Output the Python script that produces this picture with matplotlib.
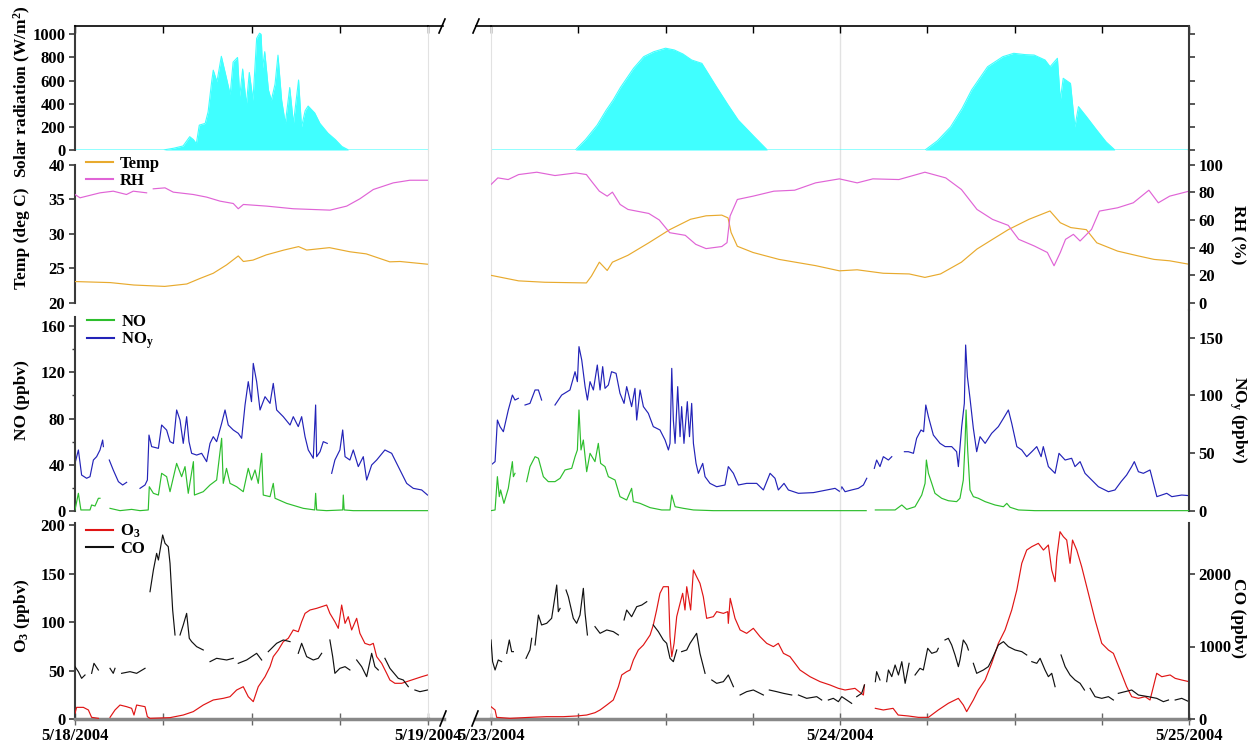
import numpy as np
import matplotlib
matplotlib.use('Agg')
import matplotlib.pyplot as plt
from matplotlib.lines import Line2D

nan = np.nan

# hours after midnight, 5/18/2004 (left part)
sol_l = [(0, 0), (6.0, 0), (6.7, 15), (7.35, 35), (7.8, 115), (8.05, 90), (8.25, 55), (8.45, 215),
         (8.85, 230), (9.05, 330), (9.3, 600), (9.4, 690), (9.65, 590), (9.95, 810), (10.3, 620),
         (10.55, 480), (10.75, 760), (11.05, 800), (11.2, 465), (11.4, 700), (11.65, 390), (11.85, 670),
         (12.1, 430), (12.35, 965), (12.55, 1010), (12.65, 1000), (12.75, 710), (12.9, 850), (13.15, 520),
         (13.35, 430), (13.6, 570), (13.8, 820), (14.05, 430), (14.3, 230), (14.6, 540), (14.85, 230),
         (15.2, 605), (15.4, 200), (15.65, 340), (15.85, 380), (16.3, 320), (16.65, 230), (17.2, 145),
         (17.7, 90), (18.15, 30), (18.6, 0), (24, 0)]
temp_l = [(0, 23.1), (2.4, 22.95), (4.0, 22.6), (6.1, 22.4), (7.6, 22.75), (8.5, 23.55), (9.4, 24.3),
          (10.3, 25.5), (11.1, 26.8), (11.45, 26.0), (12.1, 26.2), (13.0, 26.95), (14.2, 27.65),
          (15.2, 28.15), (15.75, 27.65), (17.3, 28.0), (18.7, 27.4), (19.8, 27.1), (21.4, 25.95),
          (22.1, 26.0), (24, 25.6)]
rh_l = [(0, 78.4), (0.34, 76.0), (1.7, 79.6), (2.6, 80.8), (3.5, 78.4), (3.96, 80.8), (4.87, 79.6),
        (5.1, nan), (5.32, 82.5), (6.12, 83.2), (6.68, 80.1), (8.04, 78.4), (8.95, 76.5), (9.86, 73.6),
        (10.76, 71.9), (11.1, 68.1), (11.45, 71.2), (13.03, 70.0), (14.84, 68.1), (17.34, 67.1),
        (18.47, 70.0), (19.37, 75.3), (20.28, 82.0), (21.64, 86.8), (22.77, 88.7), (24, 88.7)]
no_l = [(0, 0.9), (0.23, 15.3), (0.4, 0.9), (1.02, 0.9), (1.13, 5.2), (1.36, 4.3), (1.59, 11), (1.7, 11),
        (2.0, nan), (2.38, 2.3), (3.06, 0.3), (3.85, 1.4), (4.42, 0.3), (4.98, 0.9), (5.05, 21),
        (5.33, 15.3), (5.67, 13.8), (5.89, 32.6), (6.23, 29.7), (6.46, 16.7), (6.91, 41.2), (7.25, 29.7),
        (7.48, 38.4), (7.7, 15.3), (8.05, 42.7), (8.12, 13.8), (8.72, 16.7), (9.18, 22.5), (9.63, 26.8),
        (9.97, 62.9), (10.08, 23.9), (10.3, 36.9), (10.54, 23.9), (10.99, 21), (11.44, 16.7),
        (11.78, 36.9), (12.0, 26.8), (12.24, 35.5), (12.46, 23.9), (12.69, 49.9), (12.8, 13.8),
        (13.26, 12.4), (13.48, 23.9), (13.6, 11), (14.39, 6.6), (15.52, 2.3), (16.3, 0.9), (16.36, 15.3),
        (16.43, 0.9), (17.1, 0.3), (18.2, 0.9), (18.24, 13.8), (18.3, 0.9), (18.92, 0.3), (24, 0.3)]
noy_l = [(0, 41.2), (0.23, 52.8), (0.45, 31.1), (0.79, 28.3), (1.02, 29.7), (1.25, 44.1), (1.47, 47),
         (1.7, 52.8), (1.88, 61.4), (1.93, 55.7), (2.1, nan), (2.33, 44.1), (2.6, 35.5), (2.95, 25.4),
         (3.24, 22.5), (3.51, 24.8), (4.0, nan), (4.42, 19.6), (4.76, 22.5), (4.92, 26.8), (5.03, 65.7),
         (5.21, 55.7), (5.67, 54.2), (5.89, 74.4), (6.23, 70), (6.46, 60), (6.69, 58.5), (6.91, 87.4),
         (7.14, 78.7), (7.36, 58.5), (7.59, 81.6), (7.75, 60), (7.93, 49.9), (8.27, 48.4), (8.61, 49.9),
         (8.95, 42.7), (9.18, 58.5), (9.4, 64.3), (9.63, 60), (9.97, 75.8), (10.2, 87.4), (10.42, 74.4),
         (10.76, 70.1), (11.1, 67.2), (11.33, 62.9), (11.56, 91.7), (11.78, 111.9), (12.0, 94.6),
         (12.12, 127.7), (12.35, 111.9), (12.58, 87.4), (12.92, 98.9), (13.26, 93.1), (13.48, 110.4),
         (13.71, 87.4), (14.16, 81.6), (14.62, 74.4), (14.84, 81.6), (15.18, 73), (15.41, 81.6),
         (15.64, 64.3), (15.86, 52.8), (16.2, 45.6), (16.36, 91.7), (16.43, 47), (16.66, 51.3),
         (16.88, 60), (17.15, 58.5), (17.3, nan), (17.45, 32.6), (17.67, 44.1), (18.01, 52.8),
         (18.2, 70.1), (18.36, 47), (18.69, 44.1), (18.92, 52.8), (19.26, 38.4), (19.6, 47),
         (19.83, 26.8), (20.17, 39.8), (20.51, 44.1), (21.07, 52.8), (21.53, 49.9), (21.98, 38.4),
         (22.55, 23.9), (23.0, 19.6), (23.57, 18.2), (23.97, 13.8)]
o3_l = [(0, 5.8), (0.11, 12), (0.57, 12), (0.91, 9.3), (1.13, 1.7), (1.59, 0.7), (2.0, nan), (2.38, 1.7),
        (2.72, 9.3), (3.06, 14.4), (3.51, 12.7), (3.85, 11), (4.01, 4.1), (4.19, 14.4), (4.76, 12.7),
        (4.92, 2.4), (5.1, 0.7), (6.46, 1.4), (7.36, 4.1), (8.04, 7.6), (8.72, 14.4), (9.4, 19.6),
        (10.08, 21.3), (10.54, 23), (10.99, 29.9), (11.44, 33.3), (11.78, 23), (12.12, 17.9),
        (12.46, 33.3), (12.92, 43.6), (13.26, 54), (13.48, 64.3), (13.82, 71.1), (14.16, 79.7),
        (14.5, 83.2), (14.84, 91.8), (15.18, 90), (15.41, 100.3), (15.64, 108.9), (15.98, 112.4),
        (16.43, 114.1), (16.77, 115.8), (17.11, 117.5), (17.33, 108.9), (17.67, 100.3), (17.9, 93.5),
        (18.13, 117.5), (18.36, 98.6), (18.58, 105.5), (18.81, 91.8), (19.15, 103.8), (19.37, 88.3),
        (19.71, 78), (20.05, 76.3), (20.28, 78), (20.51, 64.3), (20.85, 57.4), (21.19, 47.1),
        (21.41, 40.2), (21.75, 36.8), (22.21, 36.8), (22.55, 38.5), (23.23, 41.9), (23.57, 43.6),
        (23.97, 45.4)]
co_l = [(0, 722), (0.23, 653), (0.45, 561), (0.68, 607), (0.9, nan), (1.13, 630), (1.29, 768),
        (1.59, 676), (2.0, nan), (2.38, 699), (2.6, 630), (2.72, 699), (2.9, nan), (3.17, 630),
        (3.74, 653), (4.19, 630), (4.76, 699), (4.9, nan), (5.1, 1756), (5.33, 2055), (5.55, 2285),
        (5.67, 2193), (5.96, 2538), (6.12, 2423), (6.34, 2377), (6.46, 2147), (6.64, 1503), (6.8, 1159),
        (6.95, nan), (7.14, 1159), (7.36, 1297), (7.59, 1457), (7.77, 1113), (7.93, 1067), (8.27, 998),
        (8.72, 952), (8.95, nan), (9.18, 791), (9.63, 837), (10.31, 814), (10.76, 837), (10.9, nan),
        (11.1, 768), (11.67, 814), (12.35, 906), (12.69, 814), (12.9, nan), (13.14, 929), (13.71, 1044),
        (14.16, 1090), (14.62, 1067), (14.9, nan), (15.18, 906), (15.41, 1044), (15.75, 860),
        (16.2, 814), (16.54, 837), (16.77, 906), (17.0, nan), (17.33, 1090), (17.52, 860), (17.67, 630),
        (18.01, 699), (18.36, 722), (18.69, 676), (18.9, nan), (19.15, 814), (19.49, 722), (19.83, 584),
        (20.05, 791), (20.17, 906), (20.39, 722), (20.62, 676), (20.8, nan), (21.07, 837), (21.41, 699),
        (21.98, 561), (22.32, 538), (22.66, 446), (22.9, nan), (23.11, 400), (23.45, 377), (23.97, 400)]

# hours after midnight, 5/23/2004 (right part, 0-48 h)
sol_r = [(0, 0), (5.8, 0), (6.5, 90), (7.3, 215), (7.9, 340), (8.4, 432), (8.9, 540), (9.8, 706),
         (10.5, 807), (11.2, 850), (12.0, 880), (12.6, 865), (13.2, 830), (13.8, 778), (14.5, 749),
         (15.5, 547), (16.3, 390), (17.0, 259), (18.1, 115), (19.0, 0), (29.85, 0), (30.7, 80),
         (31.6, 199), (32.4, 360), (33.05, 519), (34.15, 720), (35.2, 807), (35.95, 836), (36.7, 825),
         (37.35, 821), (38.1, 778), (38.45, 720), (38.95, 793), (39.15, 432), (39.35, 620), (39.85, 576),
         (40.15, 199), (40.4, 375), (40.95, 288), (41.65, 173), (42.3, 70), (42.9, 0), (48, 0)]
temp_r = [(0, 24.0), (1.9, 23.2), (3.69, 23.0), (6.56, 22.9), (6.91, 23.9), (7.45, 25.9), (7.99, 24.7),
          (8.35, 25.9), (9.42, 26.9), (10.85, 28.7), (12.29, 30.6), (13.72, 32.1), (14.79, 32.6),
          (15.87, 32.7), (16.3, 32.3), (16.51, 30.2), (16.94, 28.2), (18.02, 27.3), (19.81, 26.3),
          (22.32, 25.4), (23.96, 24.65), (25.18, 24.8), (26.97, 24.3), (28.76, 24.2), (29.84, 23.7),
          (30.91, 24.2), (32.35, 25.9), (33.42, 27.8), (34.49, 29.2), (35.57, 30.6), (37.0, 32.1),
          (38.44, 33.3), (39.15, 31.6), (39.87, 30.9), (40.94, 30.6), (41.66, 28.7), (43.09, 27.5),
          (44.52, 26.8), (45.6, 26.3), (46.67, 26.1), (48.0, 25.6)]
rh_r = [(0, 85.6), (0.47, 90.4), (1.18, 89.2), (1.9, 92.8), (3.15, 94.5), (4.4, 92.1), (5.84, 94.0),
        (6.56, 92.8), (6.91, 88.0), (7.45, 80.8), (7.99, 77.2), (8.35, 80.1), (8.88, 71.2), (9.42, 67.6),
        (10.85, 64.7), (11.57, 60.0), (12.29, 50.8), (13.36, 48.9), (14.08, 42.4), (14.79, 39.3),
        (15.87, 40.8), (16.23, 43.6), (16.44, 62.8), (16.94, 74.8), (18.02, 77.2), (19.45, 80.8),
        (20.88, 81.5), (22.32, 86.8), (23.96, 89.7), (25.18, 86.8), (26.26, 89.7), (28.05, 89.2),
        (29.84, 94.5), (31.27, 90.4), (32.35, 82.0), (33.42, 67.6), (34.49, 60.4), (35.57, 56.1),
        (36.29, 46.0), (37.36, 41.2), (38.26, 36.5), (38.72, 26.9), (39.15, 36.5), (39.51, 46.0),
        (40.05, 49.6), (40.51, 44.8), (41.3, 53.2), (41.84, 66.4), (43.09, 68.8), (44.17, 72.4),
        (45.24, 81.5), (45.89, 72.4), (46.67, 77.2), (48.0, 80.8)]
no_r = [(0, 0.3), (0.28, 0.9), (0.44, 29.7), (0.57, 12.4), (0.66, 18.2), (0.89, 6.6), (1.19, 19.6),
        (1.47, 42.7), (1.54, 29.7), (1.65, 32.6), (2.0, nan), (2.45, 25.4), (2.68, 38.4), (3.03, 47),
        (3.26, 45.6), (3.6, 29.7), (3.94, 25.4), (4.4, 25.4), (4.75, 28.3), (5.09, 35.5), (5.55, 36.9),
        (5.78, 47), (5.94, 52.8), (6.05, 87.4), (6.19, 52.8), (6.35, 61.4), (6.58, 34), (6.81, 49.9),
        (7.15, 42.7), (7.38, 58.5), (7.54, 41.2), (7.84, 38.4), (8.07, 29.7), (8.53, 26.8), (8.87, 12.4),
        (9.33, 9.5), (9.67, 19.6), (9.79, 8.1), (10.25, 6.6), (10.94, 2.9), (11.74, 0.9), (12.31, 0.9),
        (12.43, 13.8), (12.66, 3.7), (13.23, 2.3), (13.92, 0.9), (15.29, 0.3), (25.8, 0.3), (26.1, nan),
        (26.43, 0.9), (27.79, 0.9), (28.25, 5.2), (28.59, 1.4), (29.16, 3.7), (29.62, 13.8),
        (29.85, 23.9), (29.94, 44.1), (30.08, 32.6), (30.31, 23.9), (30.53, 15.3), (30.99, 11),
        (31.45, 8.9), (32.02, 8.1), (32.25, 11), (32.48, 26.8), (32.6, 58.5), (32.67, 87.4), (32.78, 52.8),
        (32.94, 18.2), (33.17, 12.4), (33.51, 11), (33.98, 8.1), (34.66, 5.2), (35.24, 3.7), (35.47, 6.6),
        (35.7, 3.2), (36.27, 0.9), (37.41, 0.3), (48, 0.3)]
noy_r = [(0, 39.8), (0.28, 42.7), (0.44, 78.7), (0.62, 73), (0.85, 68.6), (1.19, 87.4), (1.47, 100.3),
         (1.65, 96), (1.88, 97.5), (2.1, nan), (2.34, 91.7), (2.68, 93.1), (3.03, 104.7), (3.26, 104.7),
         (3.48, 96), (3.9, nan), (4.4, 91.7), (4.86, 100.3), (5.43, 104.7), (5.78, 120.5), (5.94, 111.9),
         (6.05, 142.2), (6.24, 130.6), (6.47, 107.6), (6.63, 96), (6.81, 111.9), (7.04, 104.7),
         (7.31, 126.3), (7.5, 104.7), (7.68, 124.9), (7.84, 106.1), (8.07, 109), (8.29, 120.5),
         (8.6, 119.1), (8.87, 101.8), (9.15, 93.1), (9.33, 107.6), (9.67, 90.3), (9.9, 106.1),
         (10.02, 78.7), (10.25, 104.7), (10.48, 90.3), (10.82, 84.5), (11.16, 73), (11.62, 70.1),
         (11.97, 61.4), (12.2, 52.8), (12.31, 58.5), (12.43, 123.4), (12.54, 78.7), (12.66, 58.5),
         (12.84, 107.6), (13.0, 64.3), (13.11, 90.3), (13.27, 58.5), (13.5, 94.6), (13.65, 64.3),
         (13.8, 93.1), (13.92, 58.5), (14.1, 41.2), (14.26, 32.6), (14.56, 41.2), (14.72, 29.7),
         (15.06, 23.9), (15.52, 21), (16.09, 22.5), (16.32, 38.4), (16.67, 32.6), (17.01, 22.5),
         (17.58, 23.9), (18.27, 23.9), (18.73, 18.2), (19.19, 32.6), (19.53, 28.3), (19.76, 18.2),
         (20.15, 23.9), (20.45, 18.2), (21.14, 15.3), (22.17, 15.9), (23.09, 18.2), (23.66, 19.6),
         (24.0, 16.7), (24.12, 21), (24.35, 16.7), (24.8, 18.2), (25.26, 19.6), (25.61, 22.5),
         (25.84, 28.3), (26.1, nan), (26.36, 36.9), (26.52, 44.1), (26.75, 38.4), (26.98, 47),
         (27.33, 44.1), (27.56, 47), (28.0, nan), (28.43, 51.3), (28.7, 51.3), (29.05, 49.9),
         (29.27, 62.9), (29.57, 70.1), (29.75, 68.6), (29.9, 91.7), (30.08, 81.6), (30.42, 65.7),
         (30.88, 58.5), (31.23, 55.7), (31.68, 55.7), (32.02, 51.3), (32.14, 38.4), (32.37, 73),
         (32.55, 93.1), (32.64, 143.6), (32.76, 116.2), (32.94, 97.5), (33.17, 71.5), (33.4, 51.3),
         (33.63, 64.3), (33.98, 58.5), (34.43, 67.2), (34.89, 73), (35.24, 80.2), (35.58, 87.4),
         (35.81, 75.8), (36.16, 55.7), (36.5, 52.8), (36.84, 47), (37.19, 51.3), (37.53, 55.7),
         (37.83, 47), (37.98, 55.7), (38.33, 38.4), (38.79, 32.6), (39.06, 49.9), (39.48, 44.1),
         (39.93, 45.6), (40.16, 38.4), (40.51, 42.7), (40.85, 32.6), (41.31, 26.8), (41.77, 21),
         (42.46, 16.7), (42.91, 18.2), (43.33, 25.4), (43.71, 31.1), (44.06, 38.4), (44.24, 42.7),
         (44.52, 34), (44.86, 32.6), (45.32, 35.5), (45.44, 29.7), (45.79, 12.4), (46.13, 13.8),
         (46.47, 15.3), (46.82, 12.4), (47.5, 13.8), (48.0, 13.3)]
o3_r = [(0, 12.7), (0.28, 9.3), (0.39, 1.7), (1.31, 0.7), (2.68, 1.7), (3.83, 2.4), (4.97, 2.4),
        (5.89, 3.1), (6.58, 4.1), (7.15, 6.5), (7.5, 9.3), (7.96, 14.4), (8.41, 19.6), (8.76, 33.3),
        (8.99, 45.4), (9.33, 48.8), (9.56, 50.5), (9.79, 60.8), (10.13, 71.1), (10.48, 76.3),
        (10.94, 86.6), (11.16, 96.9), (11.39, 112.4), (11.62, 129.6), (11.85, 136.4), (12.2, 136.4),
        (12.31, 84.9), (12.43, 64.3), (12.59, 78), (12.77, 105.5), (13.0, 119.2), (13.18, 129.6),
        (13.34, 112.4), (13.46, 136.4), (13.73, 112.4), (13.92, 153.6), (14.14, 146.7), (14.37, 139.9),
        (14.6, 126.1), (14.83, 103.8), (15.29, 105.5), (15.52, 110.7), (15.98, 108.9), (16.28, 110.7),
        (16.32, 98.6), (16.45, 124.4), (16.78, 103.8), (17.13, 91.8), (17.58, 88.3), (18.04, 93.5),
        (18.5, 84.9), (18.96, 78), (19.42, 74.6), (19.76, 78), (20.11, 67.7), (20.56, 64.3),
        (21.25, 50.5), (21.94, 43.6), (22.63, 38.5), (23.31, 35.1), (23.89, 31.6), (24.35, 29.9),
        (25.03, 31.6), (25.61, 24.7), (25.68, 35.1), (26.0, nan), (26.43, 11), (26.98, 9.3),
        (27.65, 11), (28.0, 4.1), (28.7, 3.1), (29.39, 1.7), (30.08, 1.7), (30.76, 9.3), (31.45, 16.2),
        (32.14, 21.3), (32.48, 14.4), (32.71, 7.6), (33.17, 19.6), (33.51, 29.9), (33.98, 40.2),
        (34.43, 57.4), (34.89, 78), (35.35, 91.8), (35.81, 112.4), (36.16, 133), (36.5, 160.5),
        (36.84, 174.2), (37.19, 177.7), (37.64, 181.1), (37.99, 174.2), (38.33, 179.4), (38.56, 153.6),
        (38.79, 141.6), (38.91, 167.4), (39.13, 193.1), (39.36, 188), (39.59, 184.5), (39.82, 160.5),
        (39.99, 184.5), (40.28, 174.2), (40.62, 157), (41.08, 129.6), (41.54, 102.1), (42.0, 78),
        (42.46, 71.1), (42.8, 67.7), (43.26, 50.5), (43.71, 33.3), (44.06, 23), (44.52, 21.3),
        (44.98, 23), (45.32, 19.6), (45.55, 33.3), (45.78, 47.1), (46.13, 43.6), (46.7, 45.4),
        (47.05, 41.9), (47.5, 40.2), (48.0, 38.5)]
co_r = [(0, 1090), (0.11, 791), (0.28, 676), (0.5, 814), (0.73, 791), (0.9, nan), (1.08, 906),
        (1.26, 1090), (1.42, 929), (1.54, 929), (2.0, nan), (2.41, 837), (2.68, 952), (2.8, 1113),
        (2.9, nan), (3.03, 1021), (3.26, 1434), (3.48, 1297), (3.83, 1320), (4.17, 1389), (4.33, 1595),
        (4.52, 1848), (4.63, 1480), (4.75, 1526), (4.95, nan), (5.16, 1779), (5.32, 1687), (5.66, 1389),
        (5.89, 1320), (6.12, 1434), (6.35, 1802), (6.47, 1457), (6.63, 1159), (6.9, nan), (7.15, 1274),
        (7.5, 1182), (7.96, 1228), (8.41, 1205), (8.76, 1159), (8.95, nan), (9.15, 1366), (9.33, 1503),
        (9.67, 1411), (10.02, 1549), (10.37, 1572), (10.71, 1618), (10.9, nan), (11.16, 1297),
        (11.51, 1205), (11.85, 1090), (12.08, 1044), (12.31, 837), (12.54, 791), (12.77, 952),
        (12.95, nan), (13.11, 929), (13.46, 952), (13.69, 1044), (14.14, 1182), (14.37, 906),
        (14.72, 630), (14.95, nan), (15.18, 538), (15.52, 492), (15.98, 515), (16.32, 607), (16.67, 446),
        (16.9, nan), (17.13, 331), (17.58, 377), (18.04, 400), (18.73, 331), (18.95, nan), (19.14, 400),
        (19.65, 377), (20.11, 354), (20.68, 331), (20.9, nan), (21.14, 331), (21.71, 285), (22.4, 308),
        (22.74, 262), (22.95, nan), (23.2, 262), (23.54, 285), (23.89, 239), (24.12, 308), (24.46, 262),
        (24.8, 216), (24.98, nan), (25.15, 308), (25.49, 354), (25.68, 469), (26.0, nan), (26.43, 515),
        (26.52, 653), (26.75, 538), (27.0, nan), (27.21, 515), (27.33, 676), (27.56, 584), (27.79, 745),
        (28.02, 607), (28.25, 791), (28.48, 492), (28.75, 768), (28.95, nan), (29.16, 607), (29.5, 699),
        (29.73, 676), (30.03, 975), (30.31, 906), (30.65, 929), (30.76, 975), (31.0, nan), (31.22, 1090),
        (31.45, 1113), (31.68, 1021), (31.91, 883), (32.14, 722), (32.25, 814), (32.48, 1090),
        (32.71, 1021), (32.83, 952), (33.0, nan), (33.17, 768), (33.4, 630), (33.86, 676), (34.2, 722),
        (34.43, 814), (34.89, 1021), (35.24, 1067), (35.58, 998), (36.04, 952), (36.5, 929), (36.84, 883),
        (37.0, nan), (37.19, 791), (37.53, 768), (37.76, 837), (38.1, 676), (38.33, 584), (38.56, 630),
        (38.79, 446), (39.0, nan), (39.2, 883), (39.48, 722), (39.82, 607), (40.16, 538), (40.51, 492),
        (40.81, 400), (41.0, nan), (41.2, 423), (41.54, 308), (42.0, 285), (42.46, 308), (42.8, 262),
        (42.97, nan), (43.14, 354), (43.6, 377), (44.06, 400), (44.52, 331), (45.2, 308), (45.78, 285),
        (46.24, 239), (46.59, 262), (46.8, nan), (47.05, 262), (47.5, 285), (48.0, 239)]

left_ticks = [[0, 200, 400, 600, 800, 1000], [20, 25, 30, 35, 40], [0, 40, 80, 120, 160], [0, 50, 100, 150, 200]]
right_ticks = [[0, 200, 400, 600, 800, 1000], [0, 20, 40, 60, 80, 100], [0, 50, 100, 150], [0, 1000, 2000]]

c_sol = '#40FFFF'
c_temp = '#E8AA2E'
c_rh = '#E064D6'
c_no = '#2DBE2D'
c_noy = '#2323B8'
c_o3 = '#E01515'
c_co = '#111111'

plt.rcParams['font.family'] = 'Liberation Serif'
plt.rcParams['font.weight'] = 'bold'
plt.rcParams['mathtext.fontset'] = 'custom'
plt.rcParams['mathtext.rm'] = 'Liberation Serif:bold'
plt.rcParams['mathtext.bf'] = 'Liberation Serif:bold'
plt.rcParams['mathtext.it'] = 'Liberation Serif:bold:italic'
plt.rcParams['mathtext.default'] = 'rm'

W, H = 1258, 743
fig = plt.figure(figsize=(W / 100, H / 100), dpi=100)


def box(x0, x1, y0, y1):
    return [x0 / W, 1 - y1 / H, (x1 - x0) / W, (y1 - y0) / H]


def fline(xs, ys, **kw):
    fig.add_artist(Line2D([x / W for x in xs], [1 - y / H for y in ys], transform=fig.transFigure, **kw))


def xy(pairs):
    a = np.array(pairs, dtype=float)
    return a[:, 0], a[:, 1]


cols = [(75, 428), (491, 1189)]
rows = [(26, 150), (150, 310), (310, 516), (516, 719)]
ylim_l = [(0, 1072), (18.99, 42.11), (-4.33, 173.9), (0, 209.3)]
ylim_r = [(0, 1072), (-5.06, 110.55), (-4.33, 173.9), (0, 2800)]
bound_l = [None, (20, 40), (0, 168), (0, 202)]
bound_r = [None, None, (0, 173.9), (0, 2700)]
data = [
    [sol_l, (temp_l, rh_l), (no_l, noy_l), (o3_l, co_l)],
    [sol_r, (temp_r, rh_r), (no_r, noy_r), (o3_r, co_r)],
]
dark = '#3a3a3a'
light = '#e2e2e2'
lw = 0.85

axs = {}
for c, (x0, x1) in enumerate(cols):
    for r, (y0, y1) in enumerate(rows):
        ax = fig.add_axes(box(x0, x1, y0, y1))
        tw = ax.twinx()
        ax.set_facecolor('none')
        ax.set_xlim(0, 24 if c == 0 else 48)
        ax.set_ylim(*ylim_l[r])
        tw.set_ylim(*ylim_r[r])
        for a in (ax, tw):
            for s in a.spines.values():
                s.set_visible(False)
        ax.spines['top'].set_visible(r == 0)
        ax.spines['top'].set_color('black')
        ax.spines['top'].set_linewidth(1.2)
        ax.spines['bottom'].set_visible(r == 3)
        ax.spines['bottom'].set_color('#888888')
        ax.spines['bottom'].set_linewidth(2.5)

        if c == 0:
            ax.spines['left'].set_visible(True)
            ax.spines['left'].set_color(dark)
            ax.spines['left'].set_linewidth(1.5)
            if bound_l[r]:
                ax.spines['left'].set_bounds(*bound_l[r])
            tw.spines['right'].set_visible(True)
            tw.spines['right'].set_color(light)
            ax.set_yticks(left_ticks[r])
            tw.set_yticks([])
            if r == 2:
                ax.set_yticks([20, 60, 100, 140], minor=True)
            ax.tick_params(axis='y', which='major', direction='out', length=4, width=1.2,
                           color=dark, labelsize=12, pad=3)
            ax.tick_params(axis='y', which='minor', direction='out', length=2.5, width=1, color=dark)
        else:
            ax.spines['left'].set_visible(True)
            ax.spines['left'].set_color(light)
            ax.axvline(24, color=light, lw=1, zorder=0)
            ax.set_yticks([])
            tw.spines['right'].set_visible(True)
            tw.spines['right'].set_color(dark)
            tw.spines['right'].set_linewidth(1.5)
            if bound_r[r]:
                tw.spines['right'].set_bounds(*bound_r[r])
            tw.set_yticks(right_ticks[r])
            tw.tick_params(axis='y', direction='out', length=4, width=1.2, color=dark,
                           labelsize=12, pad=3, labelright=(r != 0))

        if c == 0:
            xt = [0, 6, 12, 18, 24]
            xl = ['5/18/2004', '', '', '', '5/19/2004']
        else:
            xt = [0, 6, 12, 18, 24, 30, 36, 42, 48]
            xl = ['5/23/2004', '', '', '', '5/24/2004', '', '', '', '5/25/2004']
        ax.set_xticks(xt)
        if r == 0:
            ax.set_xticklabels([])
            ax.tick_params(axis='x', top=True, bottom=False, direction='in', length=5, width=1,
                           labelbottom=False)
        elif r == 3:
            ax.set_xticklabels(xl)
            ax.tick_params(axis='x', direction='inout', length=9, width=1, color='#666666',
                           labelsize=12, pad=2)
        else:
            ax.tick_params(axis='x', bottom=False, labelbottom=False)

        d = data[c][r]
        if r == 0:
            h, v = xy(d)
            ax.fill_between(h, v, 0, color=c_sol, lw=0)
            ax.plot(h, v, color=c_sol, lw=0.8)
        else:
            colors = [(c_temp, c_rh), (c_no, c_noy), (c_o3, c_co)][r - 1]
            h, v = xy(d[0])
            ax.plot(h, v, color=colors[0], lw=lw, zorder=3)
            h, v = xy(d[1])
            tw.plot(h, v, color=colors[1], lw=lw)
            if r == 2:
                ax.set_zorder(tw.get_zorder() + 1)
        axs[c, r] = (ax, tw)

# legends
leg_kw = dict(loc='upper left', bbox_transform=fig.transFigure, frameon=False, fontsize=12,
              handlelength=1.6, handletextpad=0.45, labelspacing=0.05, borderpad=0, borderaxespad=0)
axs[0, 1][1].legend([Line2D([], [], color=c_temp), Line2D([], [], color=c_rh)], ['Temp', 'RH'],
                    bbox_to_anchor=(86 / W, 1 - 156 / H), **leg_kw)
axs[0, 2][1].legend([Line2D([], [], color=c_no), Line2D([], [], color=c_noy)], ['NO', 'NO$_y$'],
                    bbox_to_anchor=(87 / W, 1 - 314 / H), **leg_kw)
axs[0, 3][1].legend([Line2D([], [], color=c_o3), Line2D([], [], color=c_co)], ['O$_3$', 'CO'],
                    bbox_to_anchor=(86 / W, 1 - 523 / H), **leg_kw)

# axis titles
lab_kw = dict(ha='center', va='center', fontsize=12.5)
fig.text(22 / W, 1 - 92 / H, 'Solar radiation (W/m$^2$)', rotation=90, **lab_kw)
fig.text(22 / W, 1 - 238 / H, 'Temp (deg C)', rotation=90, **lab_kw)
fig.text(22 / W, 1 - 400 / H, 'NO (ppbv)', rotation=90, **lab_kw)
fig.text(22 / W, 1 - 616 / H, 'O$_3$ (ppbv)', rotation=90, **lab_kw)
fig.text(1238 / W, 1 - 235 / H, 'RH (%)', rotation=270, **lab_kw)
fig.text(1238 / W, 1 - 420 / H, 'NO$_y$ (ppbv)', rotation=270, **lab_kw)
fig.text(1238 / W, 1 - 618 / H, 'CO (ppbv)', rotation=270, **lab_kw)

# broken axis: spine stubs and break marks
fline([428, 443], [26, 26], color='black', lw=1.2)
fline([476, 491], [26, 26], color='black', lw=1.2)
fline([439, 445], [33, 19], color='black', lw=1.2)
fline([473, 479], [33, 19], color='black', lw=1.2)
fline([428, 444], [719, 719], color='#888888', lw=2.5)
fline([475, 491], [719, 719], color='#888888', lw=2.5)
fline([440, 446], [726, 711], color='black', lw=1.2)
fline([472, 478], [726, 711], color='black', lw=1.2)

fig.savefig('out.png', dpi=100)
